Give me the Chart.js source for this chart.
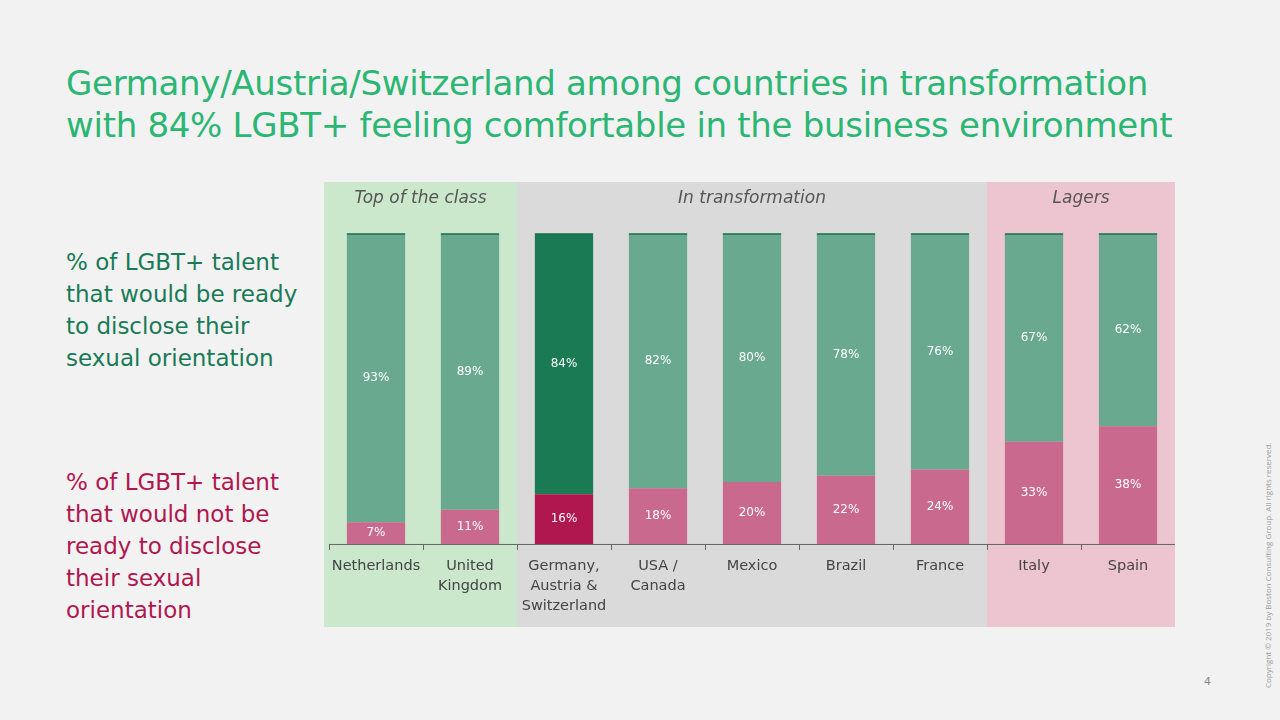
<!DOCTYPE html>
<html><head><meta charset="utf-8">
<script src="https://cdn.jsdelivr.net/npm/chart.js@4"></script>
<style>
body{margin:0;width:1280px;height:720px;background:#f2f2f2;position:relative;overflow:hidden;font-family:"DejaVu Sans",sans-serif}
h1{position:absolute;left:66px;top:62px;margin:0;font-weight:normal;font-size:34px;line-height:42px;color:#2bb673;letter-spacing:-0.3px}
.lt{position:absolute;left:66px;font-size:23px;line-height:32px}
#wrap{position:absolute;left:324px;top:182px;width:851px;height:445px}
.copy{position:absolute;left:1262px;top:688px;transform-origin:0 0;transform:rotate(-90deg);font-size:8px;color:#999;white-space:nowrap;font-family:"Open Sans",sans-serif}
.pg{position:absolute;left:1204px;top:675px;font-size:11px;color:#888}
</style></head><body>
<h1>Germany/Austria/Switzerland among countries in transformation<br>with 84% LGBT+ feeling comfortable in the business environment</h1>
<div class="lt" style="top:246px;color:#197a56">% of LGBT+ talent<br>that would be ready<br>to disclose their<br>sexual orientation</div>
<div class="lt" style="top:466px;color:#b0174f">% of LGBT+ talent<br>that would not be<br>ready to disclose<br>their sexual<br>orientation</div>
<div id="wrap"><canvas id="c"></canvas></div>
<div class="copy">Copyright © 2019 by Boston Consulting Group. All rights reserved.</div>
<div class="pg">4</div>
<script>
const categories=[["Netherlands"],["United","Kingdom"],["Germany,","Austria &","Switzerland"],["USA /","Canada"],["Mexico"],["Brazil"],["France"],["Italy"],["Spain"]];
const ready=[93,89,84,82,80,78,76,67,62];
const notReady=[7,11,16,18,20,22,24,33,38];
const groups=[{name:"Top of the class",from:0,to:1,color:"#cbe7cc"},{name:"In transformation",from:2,to:6,color:"#dadada"},{name:"Lagers",from:7,to:8,color:"#edc5d0"}];
const highlight=2;
const bgPlugin={id:'bg',beforeDraw(ch){const {ctx,scales:{x},chartArea:a}=ch;const half=(x.getPixelForValue(1)-x.getPixelForValue(0))/2;
groups.forEach((g,i)=>{let l=i===0?0:x.getPixelForValue(g.from)-half;let r=i===groups.length-1?ch.width:x.getPixelForValue(g.to)+half;
ctx.fillStyle=g.color;ctx.fillRect(l,0,r-l,ch.height);
ctx.fillStyle='#555';ctx.font='italic 17px "DejaVu Sans"';ctx.textAlign='center';ctx.textBaseline='middle';ctx.fillText(g.name,(l+r)/2,17);});
ctx.strokeStyle='#666';ctx.lineWidth=1;ctx.beginPath();ctx.moveTo(a.left,a.bottom+0.5);ctx.lineTo(a.right,a.bottom+0.5);
for(let i=0;i<=categories.length;i++){const px=Math.round(a.left+i*half*2)+0.5;ctx.moveTo(px,a.bottom);ctx.lineTo(px,a.bottom+6);}ctx.stroke();},
afterDatasetsDraw(ch){const {ctx}=ch;ctx.font='12px "DejaVu Sans"';ctx.fillStyle='#fff';ctx.textAlign='center';ctx.textBaseline='middle';
ch.data.datasets.forEach((ds,di)=>{ch.getDatasetMeta(di).data.forEach((b,i)=>{const y=(b.y+b.base)/2;ctx.fillText(ds.data[i]+'%',b.x,y);});});
const m=ch.getDatasetMeta(1);ctx.strokeStyle='#1a6e4b';ctx.lineWidth=1.5;m.data.forEach(b=>{ctx.beginPath();ctx.moveTo(b.x-b.width/2,b.y);ctx.lineTo(b.x+b.width/2,b.y);ctx.stroke();});}};
new Chart(document.getElementById('c'),{type:'bar',
data:{labels:categories,datasets:[
{data:notReady,backgroundColor:notReady.map((v,i)=>i===highlight?'#b0174f':'#c9698e'),barPercentage:0.62,categoryPercentage:1},
{data:ready,backgroundColor:ready.map((v,i)=>i===highlight?'#1a7a53':'#68a98f'),barPercentage:0.62,categoryPercentage:1}]},
options:{responsive:true,maintainAspectRatio:false,animation:false,
layout:{padding:{left:5,right:0,top:52,bottom:7}},
plugins:{legend:{display:false},tooltip:{enabled:false}},
scales:{x:{stacked:true,grid:{display:false},border:{display:false},ticks:{autoSkip:false,color:'#444',font:{size:14.5,family:'"DejaVu Sans"',lineHeight:1.38},maxRotation:0,minRotation:0,padding:4}},
y:{stacked:true,display:false,min:0,max:100}}},plugins:[bgPlugin]});
</script></body></html>
